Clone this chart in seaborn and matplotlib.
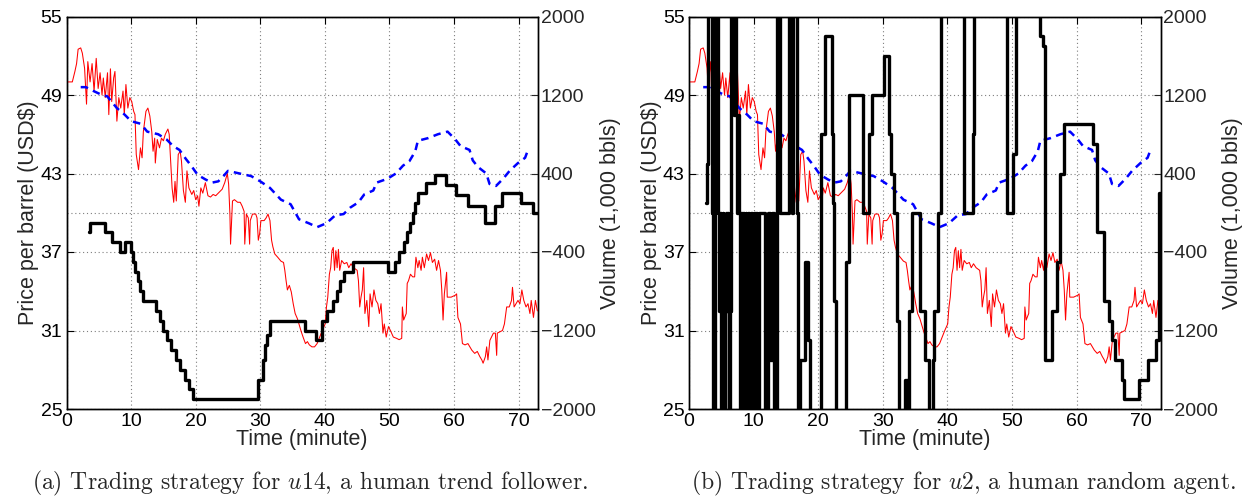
import numpy as np
import pandas as pd
import matplotlib
matplotlib.use("Agg")
import matplotlib.pyplot as plt
import seaborn as sns

# ---------------- data ----------------
price_t = [0.0, 0.9, 1.3, 1.56, 1.8, 2.2, 2.45, 2.8, 3.1, 3.3, 3.65, 3.96, 4.27, 4.6, 4.9, 5.2, 5.5, 5.7,
           6.0, 6.35, 6.55, 6.8, 7.0, 7.3, 7.5, 7.8, 8.1, 8.4, 8.75, 8.95, 9.2, 9.5, 9.8, 10.1, 10.4,
           10.6, 10.8, 11.15, 11.45, 11.7, 11.9, 12.3, 12.6, 12.9, 13.2, 13.4, 13.65, 13.75, 14.05,
           14.4, 14.7, 15.0, 15.3, 15.7, 15.9, 16.15, 16.35, 16.6, 16.8, 17.0, 17.3, 17.6, 17.8, 18.1,
           18.4, 18.65, 18.95, 19.4, 19.7, 20.0, 20.3, 20.5, 20.8, 21.1, 21.5, 21.9, 22.3, 22.7, 23.1,
           23.5, 24.1, 24.5, 24.9, 25.1, 25.3, 25.4, 25.7, 26.0, 26.5, 26.9, 27.2, 27.5, 27.6, 27.85,
           28.15, 28.35, 28.45, 28.8, 29.3, 29.5, 29.7, 29.9, 30.1, 30.6, 30.9, 31.2, 31.5, 31.75,
           31.95, 32.25, 32.7, 33.2, 33.6, 33.8, 34.0, 34.2, 34.5, 34.8, 35.1, 35.4, 35.75, 36.05,
           36.35, 36.7, 37.0, 37.3, 37.6, 38.0, 38.4, 38.8, 39.2, 39.6, 40.05, 40.25, 40.45, 40.7,
           40.9, 41.1, 41.3, 41.5, 41.7, 41.9, 42.1, 42.3, 42.6, 43.0, 43.4, 43.7, 44.05, 44.45, 45.0,
           45.2, 45.4, 45.6, 45.8, 46.0, 46.2, 46.5, 46.8, 47.0, 47.3, 47.6, 47.9, 48.2, 48.45, 48.7,
           49.0, 49.2, 49.5, 49.85, 50.15, 50.6, 51.1, 51.5, 51.9, 52.0, 52.2, 52.6, 52.75, 52.95,
           53.25, 53.6, 53.9, 54.1, 54.4, 54.6, 54.9, 55.1, 55.4, 55.75, 56.05, 56.35, 56.65, 57.0,
           57.3, 57.6, 57.9, 58.1, 58.3, 58.5, 58.85, 58.95, 59.55, 60.2, 60.4, 60.6, 61.0, 61.3,
           61.7, 62.15, 62.45, 62.75, 63.2, 63.6, 64.0, 64.3, 64.5, 64.85, 65.05, 65.25, 65.55, 65.9,
           66.1, 66.4, 66.6, 66.7, 67.1, 67.5, 67.8, 68.15, 68.55, 68.9, 69.05, 69.3, 69.6, 69.9,
           70.2, 70.5, 70.8, 71.15, 71.45, 71.75, 71.95, 72.3, 72.6, 72.9]
price_v = [50.0, 50.0, 50.8, 51.4, 52.5, 52.6, 52.2, 51.05, 48.3, 51.55, 50.0, 51.4, 49.3, 51.8, 49.5,
           50.7, 49.0, 50.3, 48.8, 50.7, 47.5, 51.0, 48.5, 50.3, 50.8, 47.0, 48.8, 48.0, 49.3, 47.5,
           49.8, 48.0, 48.8, 48.5, 47.75, 47.5, 44.45, 43.3, 44.96, 44.2, 46.2, 47.75, 48.0, 47.4,
           46.2, 44.7, 45.7, 43.8, 45.6, 44.96, 45.7, 45.5, 46.0, 46.4, 46.0, 43.7, 41.9, 40.8, 42.4,
           40.9, 44.45, 44.7, 43.95, 41.7, 40.8, 43.2, 41.9, 41.4, 41.7, 41.0, 41.3, 40.5, 41.9, 41.5,
           42.3, 41.3, 41.2, 41.4, 41.3, 41.5, 41.8, 42.3, 43.0, 42.2, 39.9, 37.6, 40.9, 41.0, 40.8,
           40.8, 40.5, 40.1, 37.6, 39.9, 39.6, 37.6, 39.4, 39.9, 39.9, 39.6, 37.9, 38.4, 39.4, 39.4,
           39.6, 39.9, 39.4, 37.9, 37.4, 36.85, 36.6, 36.3, 36.2, 35.6, 34.8, 34.1, 34.45, 33.95,
           33.05, 32.3, 31.9, 31.4, 30.9, 30.4, 30.0, 30.15, 29.9, 29.75, 29.75, 30.0, 30.5, 31.0,
           31.5, 32.8, 33.55, 35.3, 35.8, 37.1, 37.35, 35.6, 37.1, 35.8, 37.2, 35.6, 36.35, 36.1,
           36.2, 35.8, 36.1, 35.8, 35.6, 34.8, 32.8, 33.55, 34.1, 35.8, 32.3, 33.3, 31.3, 33.8, 32.8,
           34.1, 33.3, 33.05, 32.3, 33.05, 30.8, 31.5, 30.5, 31.3, 31.0, 30.5, 30.4, 30.3, 30.4, 32.8,
           31.8, 32.3, 34.6, 34.8, 35.3, 35.1, 35.1, 36.6, 35.8, 36.35, 35.6, 36.6, 35.8, 36.85,
           36.35, 36.95, 36.2, 36.45, 35.6, 36.35, 35.6, 34.1, 31.8, 33.8, 35.45, 33.55, 33.55, 33.7,
           33.8, 32.0, 31.5, 30.0, 29.9, 30.0, 29.75, 29.5, 29.25, 29.4, 29.0, 28.75, 28.5, 29.0,
           29.75, 28.75, 30.25, 30.6, 30.8, 30.8, 29.1, 30.8, 30.9, 31.0, 31.5, 32.8, 32.8, 33.3,
           34.3, 32.8, 33.05, 33.3, 33.05, 34.1, 33.3, 32.8, 33.05, 32.3, 33.3, 32.0, 33.3, 32.5]

trend_t = [2.2, 3.0, 4.2, 5.5, 6.3, 7.8, 9.0, 10.0, 11.5, 12.5, 14.2, 15.5, 16.5, 17.5, 18.5, 19.3,
           20.3, 21.5, 22.5, 23.5, 24.3, 25.0, 26.8, 28.6, 30.0, 31.5, 33.2, 34.7, 36.0, 37.5, 38.8,
           40.25, 41.6, 42.9, 43.95, 45.2, 46.1, 47.5, 48.0, 49.7, 51.0, 52.1, 53.1, 54.0, 54.4,
           55.95, 57.5, 59.0, 60.2, 61.0, 62.4, 62.9, 63.7, 65.0, 65.5, 66.5, 67.6, 68.6, 69.9, 71.0,
           71.3]
trend_v = [49.6, 49.6, 49.3, 49.0, 48.9, 48.0, 47.5, 47.0, 46.8, 46.2, 46.0, 45.6, 45.1, 44.8, 44.1,
           43.6, 42.9, 42.55, 42.3, 42.4, 42.8, 43.2, 43.0, 42.8, 42.4, 41.9, 41.0, 40.65, 39.5, 39.2,
           38.9, 39.2, 39.8, 39.9, 40.4, 40.8, 41.4, 41.7, 42.3, 42.6, 43.0, 43.6, 43.95, 44.7, 45.5,
           45.7, 46.0, 46.2, 45.6, 45.1, 44.8, 44.0, 43.5, 43.0, 42.2, 42.05, 42.6, 43.2, 43.8, 44.2,
           44.6]

# volume held, trend follower u14 (thousand barrels)
vol_a_t = [3.5, 3.7, 5.9, 7.0, 8.3, 9.1, 10.0, 10.3, 10.6, 11.1, 11.4, 11.8, 13.9, 14.5, 15.0, 15.6,
           16.2, 16.9, 17.6, 18.3, 18.9, 19.6, 29.6, 30.5, 30.8, 31.1, 31.5, 37.0, 38.6, 39.5, 40.3,
           41.3, 41.9, 42.4, 42.9, 44.4, 49.8, 50.9, 51.5, 52.2, 52.7, 53.2, 53.7, 54.0, 54.4, 55.6,
           57.1, 58.7, 60.3, 62.1, 64.8, 66.4, 67.4, 70.4, 72.2, 73.0]
vol_a_v = [-200, -100, -200, -300, -400, -300, -400, -500, -600, -700, -800, -900, -1000, -1100,
           -1200, -1300, -1400, -1500, -1600, -1700, -1800, -1900, -1700, -1500, -1350, -1250, -1100,
           -1200, -1300, -1100, -1000, -900, -800, -700, -600, -500, -600, -500, -400, -300, -200,
           -100, 0, 100, 200, 300, 380, 280, 180, 70, -100, 70, 200, 100, 0, 0]

# volume held, random agent u2 (thousand barrels; values beyond +-2000 run off the axes)
vol_b_t = [2.65, 2.75, 2.9, 3.55, 3.65, 3.95, 4.1, 4.55, 4.65, 4.8, 4.9, 5.05, 5.2, 5.3, 5.5, 5.65,
           5.8, 5.9, 6.0, 6.1, 6.2, 6.35, 6.5, 6.9, 7.05, 7.3, 7.5, 7.6, 7.75, 7.85, 8.1, 8.2, 8.35,
           8.5, 8.75, 8.9, 9.1, 9.3, 9.45, 9.6, 9.75, 9.95, 10.1, 10.2, 10.45, 10.55, 10.8, 11.8,
           12.2, 12.5, 12.9, 13.2, 13.6, 14.1, 15.5, 15.95, 16.1, 16.7, 16.85, 17.2, 18.0, 18.5, 18.8,
           20.5, 21.1, 22.1, 22.3, 22.5, 22.7, 24.3, 24.8, 27.0, 27.9, 28.3, 30.15, 30.9, 31.0,
           31.3, 31.7, 32.2, 32.5, 33.5, 33.9, 34.1, 34.6, 35.7, 36.6, 37.2, 37.7, 37.9, 38.5, 39.0,
           42.6, 43.9, 44.2, 49.3, 50.1, 50.6, 54.4, 54.8, 55.15, 56.2, 57.0, 57.5, 58.1, 62.6, 63.1,
           64.2, 65.0, 65.5, 66.0, 67.1, 67.3, 69.7, 71.0, 72.3, 72.8, 73.0]
vol_b_v = [100, 500, 2500, 0, -2500, 0, 2500, 0, -1000, 0, -2500, -1000, 0, -1000, -2500, -1000,
           0, -1000, 0, -1000, -2500, -1000, 2500, 1000, 2500, 1000, 0, 1000, 0, -2500, 0, -1000, 0,
           -2500, 0, -2500, 0, -1000, -2500, 0, -2500, -1000, 0, -2500, 0, -2500, 0, -2500,
           0, -1500, 0, -2500, 2500, 0, 2500, 0, 2500, 0, -2500, -1500, -500, -1300, -2500,
           800, 1800, 800, 100, -900, -2500, -500, 1200, 0, 800, 1200, 1600, 1200, 800,
           400, 0, -1100, -2500, -1700, -2500, -1000, 0, -1000, -1500, -2500, -1500, -1000, 0, 2500,
           0, 800, 2500, 0, 600, 2500, 1800, 1700, -1500, -1000, -500, 400, 900, 700, -200,
           -900, -1100, -1300, -1500, -1700, -1900, -1700, -1500, -1300, 200, 200]

x_ticks = [0, 10, 20, 30, 40, 50, 60, 70]
price_ticks = [25, 31, 37, 43, 49, 55]
vol_ticks = [-2000, -1200, -400, 400, 1200, 2000]
captions = [r"(a) Trading strategy for $u14$, a human trend follower.",
            r"(b) Trading strategy for $u2$, a human random agent."]

# ---------------- style ----------------
sns.set_style("white")
plt.rcParams["font.family"] = ["Liberation Sans", "DejaVu Sans"]
plt.rcParams["mathtext.fontset"] = "cm"

W, H = 1247, 496
fig = plt.figure(figsize=(W / 100, H / 100), dpi=100)

GRID = dict(color="#7f7f7f", linestyle=(0, (1, 2.5)), linewidth=0.8)
TICK_FS = 14
LABEL_FS = 15.5

panels = [
    dict(left=66.5, vol_t=vol_a_t, vol_v=vol_a_v, cap_x=310),
    dict(left=689.0, vol_t=vol_b_t, vol_v=vol_b_v, cap_x=963),
]
ax_w = 471.5
ax_top, ax_bot = 16.5, 409.0

for i, p in enumerate(panels):
    ax = fig.add_axes([p["left"] / W, 1 - ax_bot / H, ax_w / W, (ax_bot - ax_top) / H])
    sns.lineplot(x=price_t, y=price_v, ax=ax, color="#ff0000", linewidth=0.75,
                 estimator=None, sort=False, zorder=3)
    sns.lineplot(x=trend_t, y=trend_v, ax=ax, color="#0000ff", linewidth=1.8,
                 linestyle=(0, (3.0, 2.2)), estimator=None, sort=False, zorder=3)
    ax.set_xlim(0, 73)
    ax.set_ylim(25, 55)
    ax.set_xticks(x_ticks)
    ax.set_yticks(price_ticks)
    ax.tick_params(axis="both", direction="in", length=5, width=0.8, labelsize=TICK_FS,
                   top=True, colors="black")
    ax.tick_params(axis="y", pad=3)
    ax.tick_params(axis="x", pad=3)
    ax.set_xlabel("Time (minute)", fontsize=LABEL_FS, labelpad=-1)
    ax.set_ylabel("Price per barrel (USD$)", fontsize=LABEL_FS, labelpad=1)
    ax.grid(True, **GRID)
    ax.axhline(40, zorder=0.5, **GRID)
    for s in ax.spines.values():
        s.set_linewidth(1.0)
        s.set_color("black")

    ax2 = ax.twinx()
    sns.lineplot(x=p["vol_t"], y=p["vol_v"], ax=ax2, color="black", linewidth=2.4,
                 drawstyle="steps-post", estimator=None, sort=False, zorder=4)
    ax2.set_ylim(-2000, 2000)
    ax2.set_yticks(vol_ticks)
    ax2.tick_params(axis="y", direction="in", length=5, width=0.8, labelsize=TICK_FS, pad=2)
    ax2.set_ylabel("Volume (1,000 bbls)", fontsize=LABEL_FS, labelpad=3)
    ax2.grid(False)
    for s in ax2.spines.values():
        s.set_linewidth(1.0)
        s.set_color("black")

    fig.text(p["cap_x"] / W, 1 - 483 / H, captions[i], fontfamily="cmr10", fontsize=17,
             ha="center", va="center")

fig.savefig("out.png", dpi=100)
